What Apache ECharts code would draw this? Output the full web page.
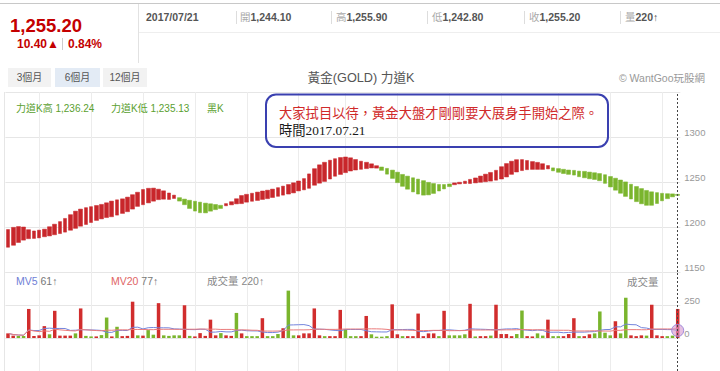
<!DOCTYPE html>
<html><head><meta charset="utf-8">
<script src="https://cdn.jsdelivr.net/npm/echarts@6/dist/echarts.min.js"></script>
<style>html,body{margin:0;padding:0;background:#fff}#c{width:720px;height:371px}</style>
</head><body><div id="c"></div>
<script>
// ---- data ----
const kOpen = [1177.5,1179.7,1182.8,1185.4,1187.0,1187.3,1187.9,1189.2,1190.1,1191.4,1192.7,1194.3,1196.4,1198.5,1200.9,1202.8,1205.0,1207.3,1209.0,1210.5,1211.4,1213.2,1215.1,1217.0,1219.9,1222.9,1224.8,1226.8,1228.7,1230.4,1230.9,1230.6,1231.7,
1232.6,1231.0,1229.7,1228.6,1227.6,1226.5,1225.8,1225.0,1224.1,
1223.6,1224.6,1225.7,1226.0,1227.6,1228.6,1229.5,1230.6,1231.5,1232.8,1234.1,1235.4,1236.6,1237.9,1240.1,1241.3,1243.0,1246.4,1248.7,1250.6,1253.3,1256.4,1258.4,1260.4,1262.2,1263.3,1264.1,1264.9,1265.6,1265.4,
1266.7,1265.1,1263.2,1260.9,1258.4,1256.5,1254.7,1253.2,1251.5,1249.6,1248.3,1247.3,1247.2,1247.8,
1247.0,1247.9,1248.3,1248.3,1249.0,1249.7,1250.3,1251.0,1252.0,1253.3,1255.6,1258.5,1261.1,1262.7,1263.7,1264.0,1264.0,1264.0,1264.6,
1265.7,1264.9,1264.1,1263.3,1262.9,1262.1,1261.8,1261.0,1260.3,1259.4,1258.1,1256.1,1254.2,1252.2,1250.1,1247.5,1245.0,1242.7,1240.6,1239.1,1238.2,1237.4,1237.0,1236.8,1236.24];
const kClose = [1197.2,1199.6,1200.5,1200.0,1197.0,1195.6,1196.5,1197.6,1200.3,1203.1,1206.0,1209.5,1213.7,1217.6,1219.9,1221.5,1222.6,1223.9,1225.1,1226.9,1228.8,1230.2,1231.3,1233.2,1235.9,1238.6,1241.7,1243.0,1243.2,1242.0,1240.2,1237.8,1235.4,
1228.8,1224.8,1220.6,1217.7,1215.9,1215.7,1217.6,1219.3,1220.6,
1226.0,1228.1,1231.4,1235.0,1236.3,1237.5,1238.8,1240.0,1240.9,1242.1,1243.7,1245.4,1247.2,1249.1,1251.1,1253.8,1259.0,1264.8,1269.1,1271.9,1274.2,1275.9,1277.2,1277.8,1276.9,1275.0,1273.1,1271.9,1270.2,1268.1,
1262.9,1258.7,1254.0,1249.3,1245.2,1242.0,1239.0,1236.6,1235.4,1235.7,1237.3,1240.0,1242.3,1244.9,
1249.0,1249.7,1250.9,1252.9,1254.5,1256.6,1258.7,1260.6,1263.0,1267.0,1270.5,1273.1,1274.8,1274.9,1273.9,1272.7,1271.8,1270.3,1268.3,
1262.4,1260.8,1259.4,1258.5,1257.7,1255.9,1254.7,1253.6,1252.8,1251.4,1248.5,1244.5,1240.9,1237.5,1234.0,1231.1,1228.2,1225.8,1224.1,1224.1,1226.1,1229.1,1231.5,1233.5,1235.13];
const volume = [35,18,15,15,220, 15,20,90,28,206, 18,18,18,35,224, 16,12,12,22,155, 12,85,14,16,275,
20,18,60,25,264, 20,16,20,20,248, 16,12,37,16,139, 20,37,20,16,190, 35,14,14,14,150,
14,14,30,74,359, 20,20,35,35,224, 20,14,14,14,213, 67,14,14,14,167, 28,10,10,14,255,
28,14,14,14,185, 14,35,35,14,206, 20,20,20,28,259, 12,14,14,18,252, 30,30,14,30,208,
14,12,35,18,139, 14,14,14,30,150, 14,14,28,35,201, 40,20,127,35,305, 20,14,20,18,252,
20,14,14,18,220];
// 1 = up day (red), -1 = down day (green)
const volDir = [1,1,-1,-1,1, 1,1,1,-1,1, 1,1,1,-1,1, -1,-1,1,-1,-1, 1,-1,1,1,1,
-1,1,-1,-1,1, -1,-1,-1,-1,1, -1,1,1,1,1, 1,-1,1,1,-1, 1,-1,-1,-1,1,
-1,-1,-1,1,-1, -1,1,1,1,1, 1,-1,1,1,1, -1,-1,-1,1,1, -1,-1,-1,-1,1,
1,-1,1,1,1, 1,1,1,-1,1, -1,-1,-1,-1,1, -1,1,1,-1,1, 1,1,1,-1,-1,
1,1,-1,-1,1, -1,-1,1,1,1, -1,1,1,-1,-1, -1,-1,1,-1,-1, 1,1,1,-1,1,
1,1,-1,-1,1];
const categories = kOpen.map((_, i) => 'D' + (i + 1));
const priceTicks = {min: 1150, max: 1350, step: 50};
const volTickLabels = [0, 250];
const volAxis = {min: -250, max: 500, step: 250};
const quote = {price: '1,255.20', chg: '10.40', pct: '0.84%', date: '2017/07/21',
  open: '1,244.10', high: '1,255.90', low: '1,242.80', close: '1,255.20', vol: '220'};
const kLegend = {high: '1,236.24', low: '1,235.13'};
const mvLegend = {mv5: '61', mv20: '77', vol: '220'};

// ---- helpers ----
function movingAvg(arr, n) {
  return arr.map((_, i) => {
    const s = Math.max(0, i - n + 1); let sum = 0;
    for (let j = s; j <= i; j++) sum += arr[j];
    return +(sum / (i - s + 1)).toFixed(1);
  });
}
const mv5 = movingAvg(volume, 5);
const mv20 = movingAvg(volume, 20);
const last = kOpen.length - 1;

const FONT = '"Liberation Sans","Noto Sans CJK TC",sans-serif';
const SERIF = '"Liberation Serif","Noto Sans CJK TC",serif';
const RED = '#c8262b', GREEN = '#7ab52d', UPRED = '#d12d2d';
const vLines = [6,16,26,36,46,56,65,75,85,95,106,116,126];

const g = [];
function ln(x1, y1, x2, y2, color, w) {
  g.push({type: 'line', silent: true, z: 50, shape: {x1, y1, x2, y2}, style: {stroke: color, lineWidth: w || 1}});
}
function tx(t, x, y, fill, font, align) {
  g.push({type: 'text', silent: true, z: 60, x, y,
    style: {text: t, fill, font, textAlign: align || 'left', align: align || 'left', textVerticalAlign: 'middle', verticalAlign: 'middle'}});
}
function rich(label, val, x, y) {
  g.push({type: 'text', silent: true, z: 60, x, y,
    style: {text: '{a|' + label + '}{b|' + val + '}', textVerticalAlign: 'middle', verticalAlign: 'middle',
      rich: {a: {fill: '#aaa', color: '#aaa', font: '10.5px ' + FONT},
             b: {fill: '#555', color: '#555', font: 'bold 10.5px ' + FONT}}}});
}
function rich2(a, ca, b, cb, x, y, size) {
  g.push({type: 'text', silent: true, z: 60, x, y,
    style: {text: '{a|' + a + '}{b|' + b + '}', textVerticalAlign: 'middle', verticalAlign: 'middle',
      rich: {a: {fill: ca, color: ca, font: size + 'px ' + FONT},
             b: {fill: cb, color: cb, font: size + 'px ' + FONT}}}});
}

// header
ln(0, 3.5, 720, 3.5, '#c8c8c8');
ln(138.5, 4, 138.5, 63, '#e2e2e2');
ln(139, 32.5, 720, 32.5, '#eeeeee');
tx(quote.price, 10, 25, '#c40000', 'bold 18.5px ' + FONT);
tx(quote.chg + '▲', 17, 44, '#c40000', 'bold 12px ' + FONT);
ln(62.5, 38, 62.5, 50, '#cccccc');
tx(quote.pct, 68, 44, '#c40000', 'bold 12px ' + FONT);
tx(quote.date, 146, 17, '#555', 'bold 10.5px ' + FONT);
[236.5, 331.5, 427.5, 524.5, 620.5].forEach(x => ln(x, 11, x, 24, '#dddddd'));
rich('開', quote.open, 240, 17);
rich('高', quote.high, 336, 17);
rich('低', quote.low, 432, 17);
rich('收', quote.close, 529, 17);
rich('量', quote.vol + '↑', 625, 17);

// range buttons
[[8, 43, '3個月', '#f2f2f2'], [55, 45, '6個月', '#e3ebf5'], [103, 44, '12個月', '#f2f2f2']].forEach(b => {
  g.push({type: 'rect', silent: true, z: 40, shape: {x: b[0], y: 68, width: b[1], height: 19}, style: {fill: b[3]}});
  tx(b[2], b[0] + b[1] / 2, 77.5, '#555', '10px ' + FONT, 'center');
});
tx('黃金(GOLD) 力道K', 361, 77.5, '#555', '12.7px ' + FONT, 'center');
tx('© WantGoo玩股網', 705, 77.5, '#999', '10.5px ' + FONT, 'right');

// left border of plot
ln(4.5, 92, 4.5, 371, '#e6e6e6');

// price legend
const LG = '#5aa02f';
tx('力道K高 ' + kLegend.high, 16, 108, LG, '10px ' + FONT);
tx('力道K低 ' + kLegend.low, 111, 108, LG, '10px ' + FONT);
tx('黑K', 207, 108, LG, '10px ' + FONT);

// volume legend
rich2('MV5 ', '#6f7fd6', mvLegend.mv5 + '↑', '#777', 16, 281, 10.5);
rich2('MV20 ', '#e06565', mvLegend.mv20 + '↑', '#777', 111, 281, 10.5);
tx('成交量 ' + mvLegend.vol + '↑', 207, 281, '#888', '10.5px ' + FONT);
tx('成交量', 627, 282, '#888', '10.5px ' + FONT);

// annotation
g.push({type: 'rect', silent: true, z: 70, shape: {x: 266, y: 94.5, width: 342, height: 52.5, r: 10},
  style: {fill: 'rgba(255,255,255,0)', stroke: '#3a40b0', lineWidth: 2}});
tx('大家拭目以待，黃金大盤才剛剛要大展身手開始之際。', 279, 113, '#d02a2a', '13.3px ' + SERIF);
tx('時間2017.07.21', 279, 130.5, '#1a1a1a', '13.3px ' + SERIF);

// ---- chart ----
const chart = echarts.init(document.getElementById('c'), null, {renderer: 'svg'});
const xAx = gi => ({
  type: 'category', gridIndex: gi, data: categories, boundaryGap: true,
  axisLine: {show: false}, axisTick: {show: false}, axisLabel: {show: false},
  splitLine: {show: true, alignWithLabel: true, interval: idx => vLines.includes(idx), lineStyle: {color: '#ececec', width: 1}}
});
const dashed = {silent: true, symbol: ['none', 'none'], label: {show: false},
  lineStyle: {color: '#444', type: [2, 2], width: 1}, data: [{xAxis: categories[last]}]};
const plain = v => String(v);

chart.setOption({
  animation: false,
  backgroundColor: '#fff',
  grid: [
    {left: 5.4, right: 39.7, top: 92, height: 180},
    {left: 5.4, right: 39.7, top: 272, height: 108}
  ],
  xAxis: [xAx(0), xAx(1)],
  yAxis: [
    {type: 'value', gridIndex: 0, position: 'right', min: priceTicks.min, max: priceTicks.max, interval: priceTicks.step,
      axisLine: {show: false}, axisTick: {show: false},
      splitLine: {lineStyle: {color: '#e6e6e6'}},
      axisLabel: {color: '#999', fontSize: 9.5, fontFamily: FONT, margin: 4, verticalAlign: 'bottom', showMaxLabel: false, formatter: plain}},
    {type: 'value', gridIndex: 1, position: 'right', min: volAxis.min, max: volAxis.max, interval: volAxis.step,
      axisLine: {show: false}, axisTick: {show: false},
      splitLine: {lineStyle: {color: '#e6e6e6'}},
      axisLabel: {color: '#999', fontSize: 9.5, fontFamily: FONT, margin: 4, verticalAlign: 'bottom',
        formatter: v => volTickLabels.includes(v) ? String(v) : ''}}
  ],
  graphic: {elements: g},
  series: [
    {type: 'candlestick', xAxisIndex: 0, yAxisIndex: 0, barWidth: 4.2,
      data: kOpen.map((o, i) => [o, kClose[i], Math.min(o, kClose[i]), Math.max(o, kClose[i])]),
      itemStyle: {color: RED, color0: GREEN, borderColor: RED, borderColor0: GREEN, borderWidth: 0.5},
      markLine: dashed},
    {type: 'bar', xAxisIndex: 1, yAxisIndex: 1, barWidth: 3.5,
      data: volume.map((v, i) => ({value: v, itemStyle: {color: volDir[i] > 0 ? UPRED : GREEN}})),
      markLine: dashed},
    {type: 'line', xAxisIndex: 1, yAxisIndex: 1, symbol: 'none', showSymbol: true, showAllSymbol: true,
      lineStyle: {color: '#7384dc', width: 1}, itemStyle: {color: '#7384dc'},
      data: mv5.map((v, i) => i === last ? {value: v, symbol: 'circle', symbolSize: 12,
        itemStyle: {color: 'rgba(214,150,205,0.6)', borderColor: 'rgba(150,130,215,0.9)', borderWidth: 1}} : v)},
    {type: 'line', xAxisIndex: 1, yAxisIndex: 1, symbol: 'none', showSymbol: false,
      lineStyle: {color: '#ea7b7b', width: 1}, data: mv20}
  ]
});
</script></body></html>
